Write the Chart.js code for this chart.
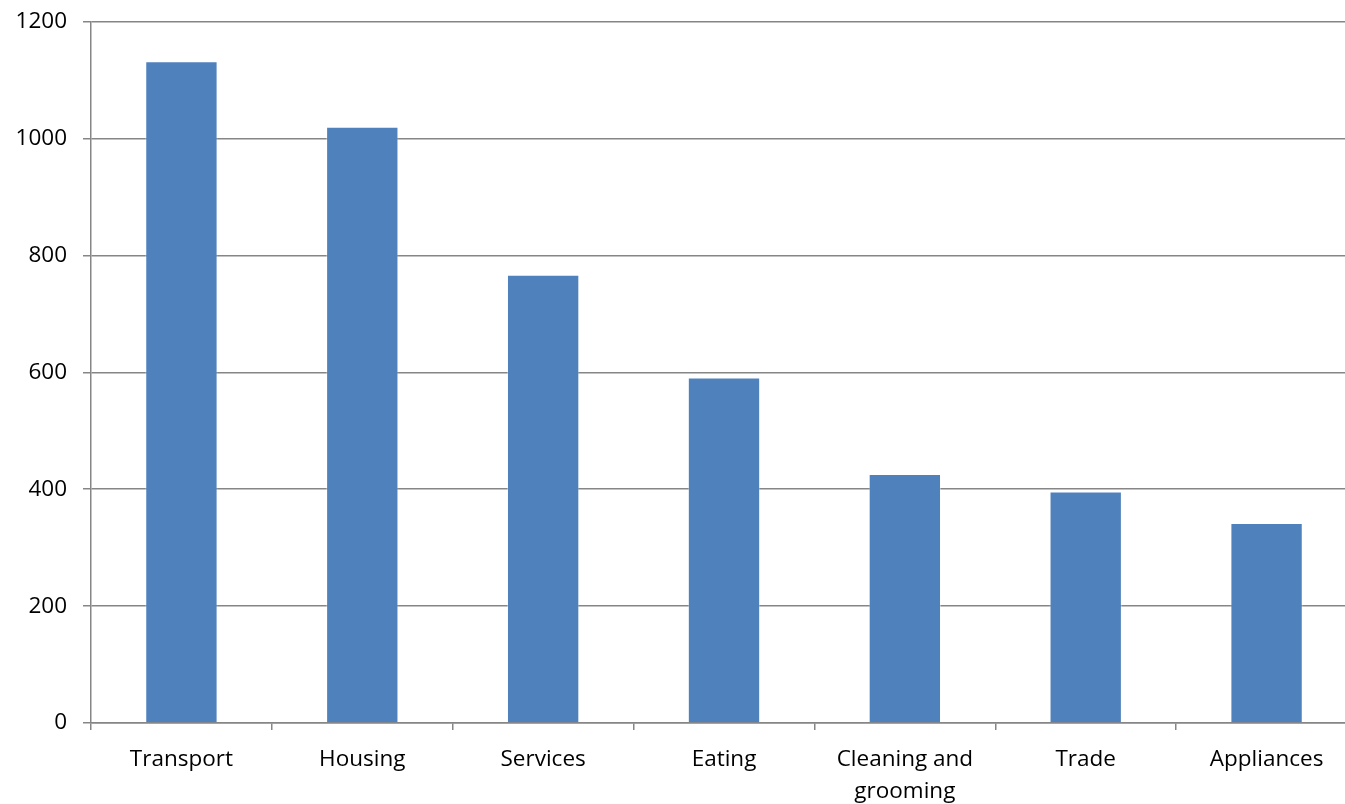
<!DOCTYPE html>
<html>
<head>
<meta charset="utf-8">
<script src="https://cdn.jsdelivr.net/npm/chart.js@4"></script>
<style>
    html, body { margin: 0; padding: 0; background: #fff; overflow: hidden; }
    #wrap { width: 1357px; height: 804px; }
</style>
</head>
<body>
<div id="wrap"><canvas id="spendChart" width="1357" height="804"></canvas></div>
<script>
// Данные графика
const categories = ['Transport', 'Housing', 'Services', 'Eating', ['Cleaning and', 'grooming'], 'Trade', 'Appliances'];
const values = [1132, 1020, 767, 591, 426, 396, 342];
const yTicks = [0, 200, 400, 600, 800, 1000, 1200];

const gridGrey = '#868686';
const fontFamily = '"Open Sans", Lato, sans-serif';

document.addEventListener('DOMContentLoaded', function() {
    const ctx = document.getElementById('spendChart').getContext('2d');

    new Chart(ctx, {
        type: 'bar',
        data: {
            labels: categories,
            datasets: [{
                data: values,
                backgroundColor: '#4F81BD',
                borderColor: 'rgba(255,255,255,0.35)',
                borderWidth: 1,
                categoryPercentage: 1,
                barPercentage: 0.4
            }]
        },
        options: {
            responsive: false,
            animation: false,
            layout: { padding: { top: 20, right: 0, bottom: 0, left: 0 } },
            plugins: {
                legend: { display: false },
                tooltip: { enabled: false }
            },
            scales: {
                x: {
                    grid: {
                        offset: true,
                        drawOnChartArea: false,
                        drawTicks: true,
                        tickLength: 7,
                        color: gridGrey,
                        lineWidth: 1.5
                    },
                    border: { color: gridGrey, width: 1.5 },
                    ticks: {
                        color: '#000',
                        font: { family: fontFamily, size: 22.5, lineHeight: 1.4 },
                        padding: 14,
                        maxRotation: 0,
                        autoSkip: false
                    },
                    afterFit: function(scale) { scale.height = 81; }
                },
                y: {
                    min: 0,
                    max: 1200,
                    afterBuildTicks: function(scale) {
                        scale.ticks = yTicks.map(v => ({ value: v }));
                    },
                    grid: {
                        color: gridGrey,
                        lineWidth: 1.5,
                        tickLength: 8
                    },
                    border: { color: gridGrey, width: 1.5 },
                    ticks: {
                        color: '#000',
                        font: { family: fontFamily, size: 22.5, lineHeight: 0.5 },
                        padding: 16,
                        callback: function(value) { return String(value); }
                    },
                    afterFit: function(scale) { scale.width = 91; }
                }
            }
        }
    });
});
</script>
</body>
</html>
